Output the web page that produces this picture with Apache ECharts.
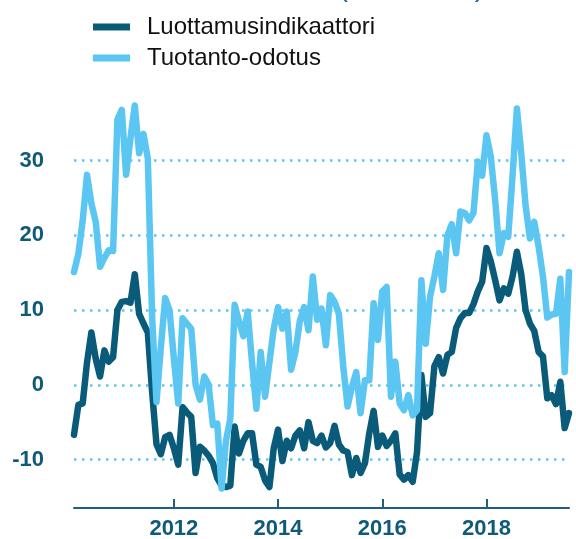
<!DOCTYPE html>
<html>
<head>
<meta charset="utf-8">
<script src="https://cdn.jsdelivr.net/npm/echarts@6/dist/echarts.min.js"></script>
<style>
  html, body { margin: 0; padding: 0; background: #fff; }
  #chart { width: 576px; height: 539px; }
</style>
</head>
<body>
<div id="chart"></div>
<script>
// kuukaudet helmikuu 2010 - elokuu 2019
var startYear = 2010, startMonth = 2, monthCount = 115;
var months = [];
for (var i = 0; i < monthCount; i++) {
  var m = startMonth - 1 + i;
  var y = startYear + Math.floor(m / 12);
  var mm = (m % 12) + 1;
  months.push(y + "-" + (mm < 10 ? "0" + mm : mm));
}

var yearTicks = ["2012", "2014", "2016", "2018"];
var gridValues = [-10, 0, 10, 20, 30];

var luottamus = [
  -6.7, -2.7, -2.5, 3.0, 7.0, 3.5, 1.1, 4.6, 3.1, 3.7,
  10.0, 11.1, 11.2, 11.0, 14.8, 9.5, 8.2, 7.0, -1.0, -8.0,
  -9.3, -7.0, -6.7, -8.5, -10.7, -3.0, -3.7, -4.3, -11.8, -8.3,
  -8.8, -9.5, -10.5, -12.5, -13.5, -13.7, -13.5, -5.6, -9.2, -7.5,
  -6.5, -6.5, -10.7, -11.0, -12.8, -13.7, -8.5, -6.0, -10.2, -7.5,
  -8.5, -6.8, -6.1, -8.5, -5.0, -7.5, -7.8, -6.8, -8.4, -7.8,
  -5.5, -8.0, -8.8, -9.0, -12.1, -9.8, -11.8, -10.5, -6.5, -3.5,
  -8.3, -6.8, -8.2, -7.5, -6.5, -12.0, -12.7, -12.1, -13.0, -9.0,
  1.3, -4.3, -3.8, 2.5, 3.7, 1.5, 4.0, 4.4, 7.6, 8.9,
  9.6, 9.6, 10.8, 12.5, 13.8, 18.3, 16.5, 14.0, 11.3, 12.9,
  12.2, 14.5, 17.8, 14.8, 10.0, 8.2, 7.2, 4.4, 3.8, -1.8,
  -1.4, -2.6, 0.4, -5.8, -3.8
];

var tuotanto = [
  15.1, 17.5, 22.0, 28.1, 24.3, 21.8, 15.8, 17.0, 18.0, 17.9,
  35.5, 36.8, 28.1, 33.0, 37.4, 31.0, 33.6, 30.3, 9.0, -2.3,
  5.0, 11.6, 10.0, 3.5, -2.5, 8.9, 8.2, 7.5, 0.0, -2.0,
  1.1, 0.0, -5.4, -5.2, -13.9, -7.5, -4.5, 10.7, 8.5, 6.5,
  9.8, 3.0, -3.2, 4.4, -1.6, 3.0, 7.5, 10.4, 7.5, 9.8,
  2.0, 4.4, 8.5, 10.4, 7.3, 14.5, 8.7, 10.2, 5.3, 12.0,
  11.1, 9.5, 2.5, -2.9, -0.3, 1.7, -3.8, 0.6, 0.6, 10.9,
  6.0, 12.5, 13.1, -1.6, 3.1, -2.5, -3.4, -1.4, -4.1, -3.4,
  14.0, 5.5, 11.8, 14.5, 17.6, 12.7, 20.0, 21.5, 17.6, 23.2,
  23.0, 22.0, 23.0, 29.9, 28.0, 33.4, 30.5, 24.7, 17.6, 20.3,
  19.8, 28.0, 37.0, 31.0, 24.0, 19.6, 21.8, 18.5, 14.5, 9.0,
  9.4, 9.5, 14.2, 1.7, 15.1
];

var darkBlue = "#0a5b7a";
var lightBlue = "#5bc6f2";

function isYearTick(index, value) {
  return value.slice(5) === "01" && yearTicks.indexOf(value.slice(0, 4)) >= 0;
}

var chart = echarts.init(document.getElementById("chart"));
chart.setOption({
  animation: false,
  title: {
    text: "(saldoluku)",
    left: 333,
    top: -32,
    textStyle: { color: "#1d6f95", fontSize: 30, fontWeight: "normal", fontFamily: "Liberation Sans" }
  },
  legend: {
    data: ["Luottamusindikaattori", "Tuotanto-odotus"],
    orient: "vertical",
    left: 88,
    top: 10,
    icon: "rect",
    itemWidth: 37,
    itemHeight: 7,
    itemGap: 7,
    textStyle: {
      color: "#111",
      fontSize: 24,
      lineHeight: 24,
      fontFamily: "Liberation Sans",
      padding: [0, 0, 0, 12]
    }
  },
  grid: {
    left: 74,
    right: 7,
    top: 86,
    bottom: 31,
    containLabel: false,
    outerBoundsMode: "none"
  },
  xAxis: {
    type: "category",
    data: months,
    boundaryGap: false,
    axisLine: { onZero: false, lineStyle: { color: "#1d5f7c", width: 2 } },
    axisTick: {
      inside: true,
      length: 9,
      interval: isYearTick,
      lineStyle: { color: "#1d5f7c", width: 2 }
    },
    axisLabel: {
      interval: isYearTick,
      formatter: function (v) { return v.slice(0, 4); },
      color: "#0e5a78",
      fontSize: 22,
      fontWeight: "bold",
      fontFamily: "Liberation Sans",
      margin: 10
    },
    splitLine: { show: false }
  },
  yAxis: {
    type: "value",
    min: -16.5,
    max: 40,
    axisLine: { show: false },
    axisTick: { show: false },
    splitLine: { show: false },
    axisLabel: {
      customValues: gridValues,
      color: "#0e5a78",
      fontSize: 22,
      fontWeight: "bold",
      fontFamily: "Liberation Sans",
      margin: 30
    }
  },
  series: [
    {
      name: "Luottamusindikaattori",
      type: "line",
      data: luottamus,
      symbol: "none",
      color: darkBlue,
      lineStyle: { width: 6.5, color: darkBlue, cap: "round", join: "round" },
      markLine: {
        silent: true,
        symbol: "none",
        label: { show: false },
        lineStyle: { color: lightBlue, type: [2.5, 5.5], width: 2.5 },
        data: gridValues.map(function (v) { return { yAxis: v }; }),
        z: 1
      },
      z: 3
    },
    {
      name: "Tuotanto-odotus",
      type: "line",
      data: tuotanto,
      symbol: "none",
      color: lightBlue,
      lineStyle: { width: 6.5, color: lightBlue, cap: "round", join: "round" },
      z: 4
    }
  ]
});
</script>
</body>
</html>
